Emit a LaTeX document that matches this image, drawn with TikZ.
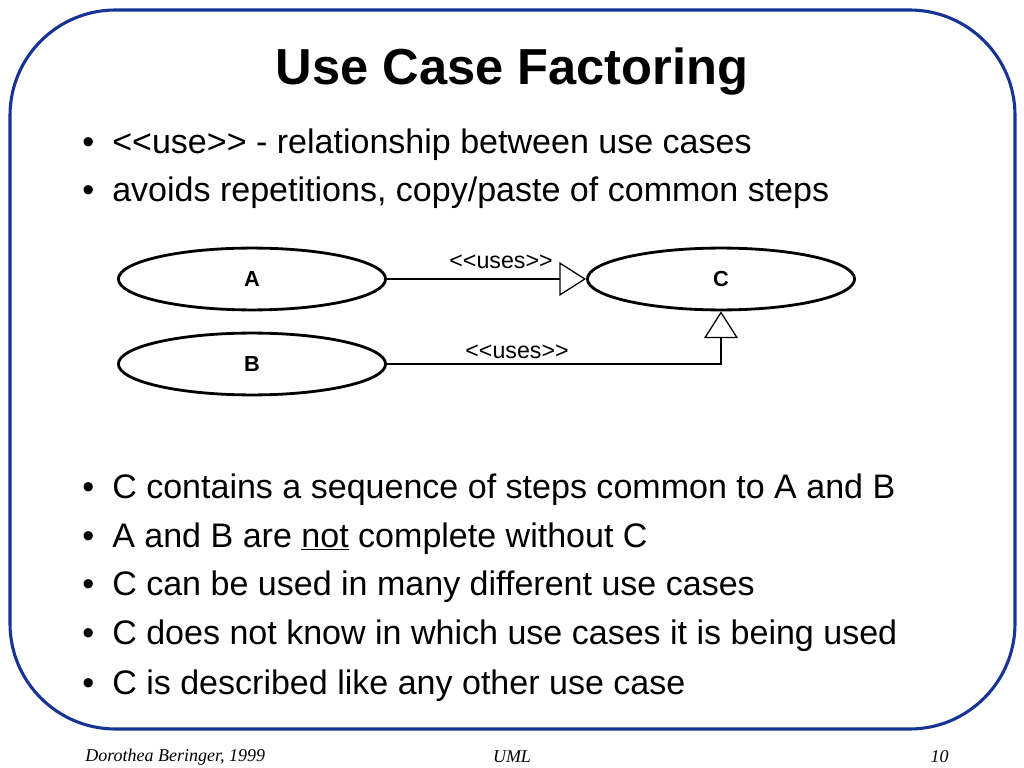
\documentclass[tikz,border=0pt]{standalone}
\usepackage{fontspec}
\setmainfont{Liberation Sans}
\newfontfamily\footfont{Liberation Serif}
\usetikzlibrary{arrows.meta,shapes.geometric}
\definecolor{framecol}{RGB}{22,52,150}

\begin{document}
\begin{tikzpicture}[x=0.025cm,y=-0.025cm,
  case/.style={draw,ellipse,line width=2pt,minimum width=190pt,minimum height=44pt,font=\fontsize{15.5}{17}\selectfont\bfseries},
  uses/.style={line width=0.9pt,-{Triangle[open,length=19pt,width=24pt]}},
  tag/.style={font=\fontsize{16.5}{18}\selectfont,inner sep=0pt},
  item/.style={anchor=base west,inner sep=0pt,font=\fontsize{24.2}{28}\selectfont},
  foot/.style={font=\footfont\itshape\fontsize{12.8}{14}\selectfont,inner sep=0pt}]
\useasboundingbox (0,0) rectangle (1024,768);
\draw[framecol,line width=2.2pt,rounded corners=75] (10,10) rectangle (1015,729);

\node (title) at (512,72) {\fontsize{36}{40}\selectfont\bfseries Use Case Factoring};

% bullets
\foreach \y/\t [count=\i] in {153/{<{}<use>{}> - relationship between use cases},
  201/{avoids repetitions, copy/paste of common steps},
  498/{C contains a sequence of steps common to A and B},
  547/{A and B are \underline{not} complete without C},
  595/{C can be used in many different use cases},
  644/{C does not know in which use cases it is being used},
  694/{C is described like any other use case}} {
\node[item] (dot\i) at (82,\y) {\textbullet};
\node[item] (item\i) at (112,\y) {\t};
}

% use cases
\node[case] (A) at (252,279) {A};
\node[case] (B) at (252,364) {B};
\node[case] (C) at (721,279) {C};

\draw[uses] (A) -- (C);
\node[tag] (lab1) at (501,262) {<{}<uses>{}>};
\draw[uses] (B) -| (C);
\node[tag] (lab2) at (517,352) {<{}<uses>{}>};

\node[foot,anchor=west] (who) at (85,757) {Dorothea Beringer, 1999};
\node[foot] (uml) at (512,757) {UML};
\node[foot,anchor=east] (page) at (949,757) {10};
\end{tikzpicture}
\end{document}
